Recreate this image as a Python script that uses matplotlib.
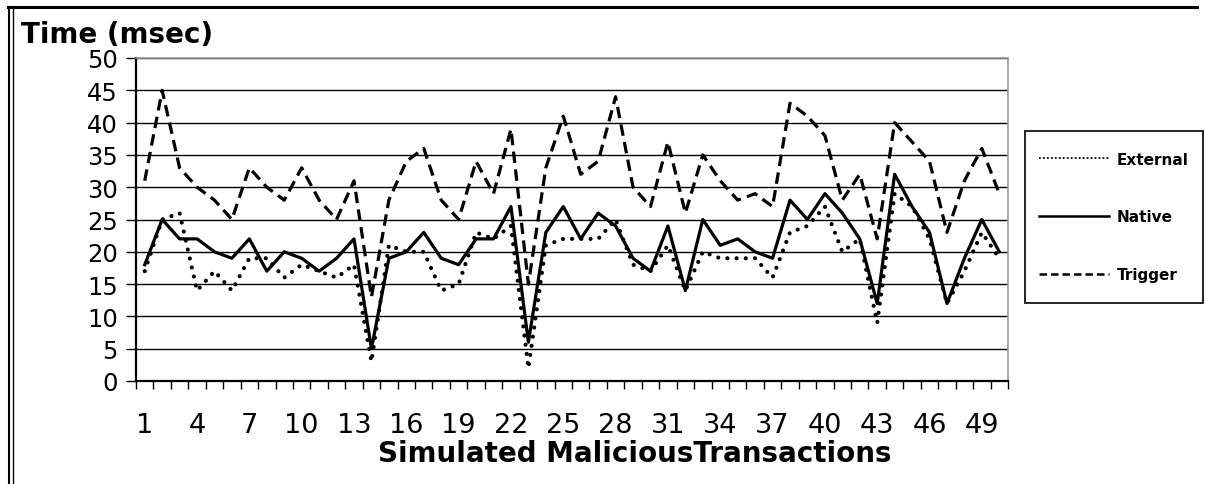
import matplotlib
matplotlib.use("Agg")
import matplotlib.pyplot as plt
from matplotlib.lines import Line2D
from matplotlib.patches import Rectangle
import numpy as np

plt.rcParams['font.family'] = ['DejaVu Sans']

transactions = list(range(1, 51))
external = [17, 25, 26, 14, 17, 14, 19, 19, 16, 18, 17, 16, 18, 3, 21, 20, 20,
            14, 15, 23, 22, 24, 2, 21, 22, 22, 22, 25, 18, 17, 21, 14, 20, 19,
            19, 19, 16, 23, 24, 27, 20, 22, 9, 29, 27, 22, 12, 17, 23, 19]
native = [18, 25, 22, 22, 20, 19, 22, 17, 20, 19, 17, 19, 22, 5, 19, 20, 23,
          19, 18, 22, 22, 27, 6, 23, 27, 22, 26, 24, 19, 17, 24, 14, 25, 21,
          22, 20, 19, 28, 25, 29, 26, 22, 12, 32, 27, 23, 12, 19, 25, 20]
trigger = [31, 45, 33, 30, 28, 25, 33, 30, 28, 33, 28, 25, 31, 13, 28, 34, 36,
           28, 25, 34, 29, 39, 15, 33, 41, 32, 34, 44, 30, 27, 37, 26, 35, 31,
           28, 29, 27, 43, 41, 38, 28, 32, 22, 40, 37, 34, 23, 31, 36, 29]
xtick_labels = [str(v) for v in range(1, 51, 3)]
ytick_values = list(range(0, 51, 5))

W, H = 1205, 485
fig = plt.figure(figsize=(W / 100, H / 100), dpi=100)

def fx(px):
    return px / W

def fy(py):
    return 1 - py / H

left, right, top, bottom = 136, 1008, 59, 382
ax = fig.add_axes([fx(left), fy(bottom), fx(right - left), (bottom - top) / H])

ax.plot(transactions, external, color='black', lw=3.0, linestyle=(0, (0.01, 2.2)),
        dash_capstyle='round', solid_capstyle='round')
ax.plot(transactions, native, color='black', lw=2.3, linestyle='-')
ax.plot(transactions, trigger, color='black', lw=2.3, linestyle=(0, (3.6, 2.0)))

ax.set_xlim(0.5, 50.5)
ax.set_ylim(0, 50)
ax.set_yticks(ytick_values)
ax.set_yticklabels([str(v) for v in ytick_values], fontsize=17.5)
ax.set_xticks(list(range(1, 51, 3)))
ax.set_xticklabels(xtick_labels, fontsize=19.5)
ax.set_xticks(np.arange(0.5, 51, 1.0), minor=True)
ax.tick_params(axis='x', which='major', length=0, pad=22)
ax.tick_params(axis='x', which='minor', length=6, width=1, direction='out', color='black')
ax.tick_params(axis='y', which='major', length=7, width=1, direction='out', pad=6)

ax.grid(axis='y', color='black', lw=1.0)
ax.set_axisbelow(True)
for s in ['top', 'right']:
    ax.spines[s].set_color('#999999')
    ax.spines[s].set_linewidth(1.2)
for s in ['left', 'bottom']:
    ax.spines[s].set_color('black')
    ax.spines[s].set_linewidth(1.6)

fig.text(fx(21), fy(43), 'Time (msec)', fontsize=20, fontweight='bold', va='baseline', ha='left')
fig.text(fx(635), fy(462), 'Simulated MaliciousTransactions', fontsize=20,
         fontweight='bold', va='baseline', ha='center')

# legend box
lx0, lx1, ly0, ly1 = 1025, 1203, 132, 304
fig.patches.append(Rectangle((fx(lx0), fy(ly1)), fx(lx1 - lx0), (ly1 - ly0) / H,
                             transform=fig.transFigure, fill=False, edgecolor='black', lw=1.2))
handles = [Line2D([], [], color='black', lw=1.3, linestyle=(0, (1, 1.2))),
           Line2D([], [], color='black', lw=1.8, linestyle='-'),
           Line2D([], [], color='black', lw=1.8, linestyle=(0, (3, 1.6)))]
fig.legend(handles, ['External', 'Native', 'Trigger'], loc='center',
           bbox_to_anchor=(fx(lx0), fy(ly1), fx(lx1 - lx0), (ly1 - ly0) / H),
           frameon=False, prop={'size': 11, 'weight': 'bold'},
           labelspacing=2.8, handlelength=4.6, handletextpad=0.5)

# outer frame
fig.add_artist(Line2D([fx(8), fx(1197)], [fy(8), fy(8)], transform=fig.transFigure, color='black', lw=2.2))
fig.add_artist(Line2D([fx(8.5), fx(8.5)], [fy(8), 0], transform=fig.transFigure, color='black', lw=1.5))
fig.add_artist(Line2D([fx(12.5), fx(12.5)], [fy(8), 0], transform=fig.transFigure, color='black', lw=1.0))

fig.savefig('out.png', dpi=100)
